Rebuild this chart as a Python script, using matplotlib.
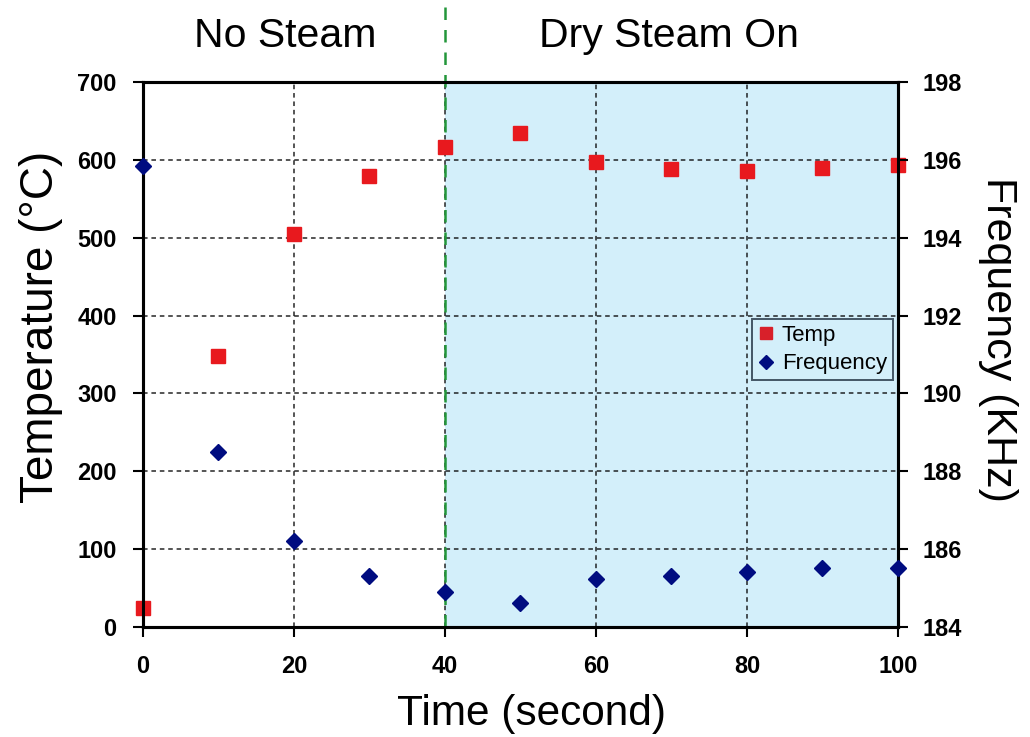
import matplotlib
matplotlib.use("Agg")
import matplotlib.pyplot as plt
from matplotlib.lines import Line2D

plt.rcParams['font.family'] = ['Liberation Sans', 'DejaVu Sans']

time_s = [0, 10, 20, 30, 40, 50, 60, 70, 80, 90, 100]
temp_c = [25, 348, 505, 579, 616, 634, 597, 588, 586, 590, 593]
freq_khz = [195.84, 188.5, 186.21, 185.31, 184.91, 184.61, 185.23, 185.31, 185.41, 185.51, 185.51]

x_ticks = [0, 20, 40, 60, 80, 100]
temp_ticks = [0, 100, 200, 300, 400, 500, 600, 700]
freq_ticks = [184, 186, 188, 190, 192, 194, 196, 198]
steam_on = 40

fig = plt.figure(figsize=(10.3, 7.37), dpi=100)
ax = fig.add_axes([0.1388, 0.1493, 0.7330, 0.7394])
ax2 = ax.twinx()

ax.set_xlim(0, 100)
ax.set_ylim(0, 700)
ax2.set_ylim(184, 198)

ax.axvspan(steam_on, 100, color='#D3EFFA', zorder=0, lw=0)
ax.grid(True, color='black', linestyle=(0, (3, 2.5)), linewidth=1.1, alpha=0.85)
ax.set_axisbelow(True)

ax.axvline(steam_on, ymin=0, ymax=(627 - 5) / 545, color='#23963A',
           linestyle=(0, (5, 4)), linewidth=1.8, clip_on=False, zorder=3)

ax.plot(time_s, temp_c, linestyle='none', marker='s', ms=9.5, color='#E8191E',
        clip_on=False, zorder=5)
ax2.plot(time_s, freq_khz, linestyle='none', marker='D', ms=7.8, color='#000C80',
         clip_on=False, zorder=5)

for a in (ax, ax2):
    for s in a.spines.values():
        s.set_linewidth(2.2)
        s.set_color('black')

ax.set_xticks(x_ticks)
ax.set_yticks(temp_ticks)
ax2.set_yticks(freq_ticks)
ax.tick_params(axis='y', direction='out', length=7, width=1.5, labelsize=17, pad=12)
ax.tick_params(axis='x', direction='out', length=7, width=1.5, labelsize=17, pad=13)
ax2.tick_params(axis='y', direction='out', length=7, width=1.5, labelsize=17, pad=11)
for lbl in ax.get_xticklabels() + ax.get_yticklabels() + ax2.get_yticklabels():
    lbl.set_fontweight('bold')

ax.set_xlabel('Time (second)', fontsize=30.5, labelpad=12)
ax.set_ylabel('Temperature (°C)', fontsize=33, labelpad=10)
ax2.set_ylabel('Frequency (KHz)', fontsize=31, rotation=270, labelpad=40)
ax.xaxis.label.set_x(0.515)
ax.yaxis.label.set_y(0.55)
ax2.yaxis.label.set_y(0.528)

ax.text(18.9, 1.064, 'No Steam', transform=ax.get_xaxis_transform(), ha='center',
        va='baseline', fontsize=29.5)
ax.text(69.7, 1.064, 'Dry Steam On', transform=ax.get_xaxis_transform(), ha='center',
        va='baseline', fontsize=29.5)

handles = [Line2D([], [], linestyle='none', marker='s', ms=9, color='#D8202A'),
           Line2D([], [], linestyle='none', marker='D', ms=7.5, color='#000C80')]
leg = ax2.legend(handles, ['Temp', 'Frequency'], loc='upper left',
                 bbox_to_anchor=(0.8066, 0.565), fontsize=16, frameon=True,
                 fancybox=False, handlelength=0.8, handletextpad=0.3,
                 borderpad=0.25, labelspacing=0.35, borderaxespad=0)
leg.get_frame().set_edgecolor('#203040')
leg.get_frame().set_facecolor('none')
leg.get_frame().set_linewidth(1.4)

fig.savefig('out.png', dpi=100)
